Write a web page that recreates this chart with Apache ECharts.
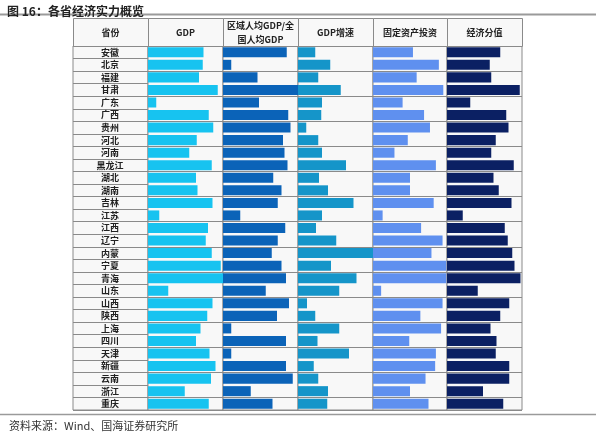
<!DOCTYPE html>
<html>
<head>
<meta charset="utf-8">
<script src="https://cdn.jsdelivr.net/npm/echarts@6/dist/echarts.min.js"></script>
<style>
  html, body { margin: 0; padding: 0; background: #fff; }
  #main { width: 600px; height: 434px; }
</style>
</head>
<body>
<div id="main"></div>
<script>
// Data (bar length as share of the column, 0-100)
const provinces = ['安徽', '北京', '福建', '甘肃', '广东', '广西', '贵州', '河北', '河南', '黑龙江',
  '湖北', '湖南', '吉林', '江苏', '江西', '辽宁', '内蒙', '宁夏', '青海', '山东',
  '山西', '陕西', '上海', '四川', '天津', '新疆', '云南', '浙江', '重庆'];
const gdp = [74, 73, 68, 93, 11, 81, 87, 65, 55, 85, 64, 66, 86, 15, 80, 77, 85, 97, 100, 27,
  86, 79, 70, 64, 82, 90, 84, 49, 81];
const perCapita = [85, 11, 46, 100, 48, 87, 90, 80, 82, 86, 67, 78, 73, 23, 83, 73, 65, 78, 84, 57,
  88, 72, 11, 84, 11, 84, 93, 37, 66];
const growth = [23, 43, 27, 57, 32, 31, 11, 27, 32, 64, 28, 40, 74, 32, 24, 51, 100, 44, 78, 55,
  12, 23, 55, 26, 68, 21, 27, 40, 39];
const investment = [54, 89, 59, 95, 40, 69, 77, 47, 29, 85, 50, 50, 82, 13, 65, 94, 79, 99, 99, 11,
  94, 64, 92, 49, 85, 84, 71, 50, 75];
const score = [71, 57, 59, 97, 31, 79, 82, 65, 59, 89, 62, 69, 86, 21, 77, 81, 87, 90, 98, 41,
  83, 71, 58, 66, 65, 83, 83, 48, 75];

const headers = ['省份', 'GDP', '区域人均GDP/全\n国人均GDP', 'GDP增速', '固定资产投资', '经济分值'];
const seriesData = [gdp, perCapita, growth, investment, score];
const colors = ['#17c3f0', '#0b63b8', '#1595c9', '#5f90ef', '#0b2063'];

const chartDom = document.getElementById('main');
const myChart = echarts.init(chartDom);

const colX = [73, 148, 223, 298, 373, 447, 522];
const tableTop = 46;
const tableH = 364;
const headTop = 18;
const lineColor = '#8a8a8a';
const font = '"Noto Sans CJK SC", sans-serif';

const grids = [];
const xAxes = [];
const yAxes = [];
const series = [];

for (let i = 0; i < 6; i++) {
  grids.push({
    left: colX[i], top: tableTop, width: colX[i + 1] - colX[i], height: tableH,
    show: true, borderColor: lineColor, borderWidth: 1, backgroundColor: '#f8f8f8'
  });
  xAxes.push({
    gridIndex: i, type: 'value', min: 0, max: 100, show: false
  });
  yAxes.push({
    gridIndex: i, type: 'category', data: provinces, inverse: true,
    axisLine: { show: false }, axisTick: { show: false },
    splitLine: { show: true, lineStyle: { color: lineColor, width: 1 } },
    axisLabel: i === 0 ? {
      show: true, inside: true, margin: 37, align: 'center',
      fontFamily: font, fontWeight: 'bold', fontSize: 9, color: '#222'
    } : { show: false }
  });
}

seriesData.forEach((arr, k) => {
  series.push({
    type: 'bar', xAxisIndex: k + 1, yAxisIndex: k + 1,
    data: arr, barWidth: '80%', silent: true,
    itemStyle: { color: colors[k] }
  });
});

// header cells
const graphic = [];
for (let i = 0; i < 6; i++) {
  graphic.push({
    type: 'rect',
    shape: { x: colX[i] + 0.5, y: headTop + 0.5, width: colX[i + 1] - colX[i], height: tableTop - headTop },
    style: { fill: '#f8f8f8', stroke: lineColor, lineWidth: 1 }
  });
  graphic.push({
    type: 'text',
    x: (colX[i] + colX[i + 1]) / 2, y: (headTop + tableTop) / 2 + 1,
    style: {
      text: headers[i], fontFamily: font, fontWeight: 'bold', fontSize: 9,
      fill: '#222', align: 'center', verticalAlign: 'middle', lineHeight: 14
    }
  });
}
// rules under title and above source
graphic.push({
  type: 'line', shape: { x1: 0, y1: 14.5, x2: 596, y2: 14.5 },
  style: { stroke: '#9a9a9a', lineWidth: 2 }
});
graphic.push({
  type: 'line', shape: { x1: 0, y1: 414.5, x2: 596, y2: 414.5 },
  style: { stroke: '#9a9a9a', lineWidth: 1.5 }
});

const option = {
  backgroundColor: '#fff',
  animation: false,
  title: [
    {
      text: '图 16：各省经济实力概览', left: 2, top: 0,
      textStyle: { fontFamily: font, fontWeight: 'bold', fontSize: 12, color: '#222' }
    },
    {
      text: '资料来源：Wind、国海证券研究所', left: 4, top: 415,
      textStyle: { fontFamily: font, fontWeight: 'normal', fontSize: 11, color: '#333' }
    }
  ],
  grid: grids,
  xAxis: xAxes,
  yAxis: yAxes,
  series: series,
  graphic: graphic
};

myChart.setOption(option);
</script>
</body>
</html>
